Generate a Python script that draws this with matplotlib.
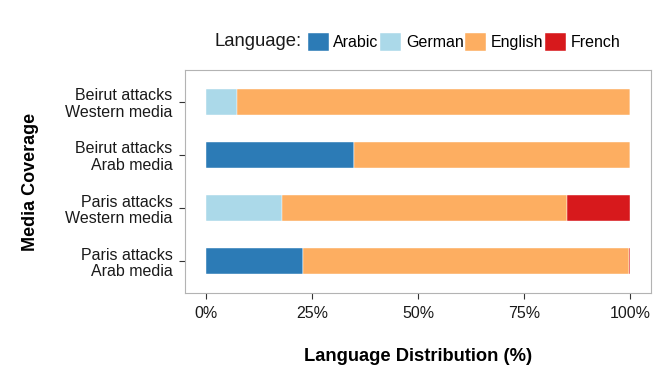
import matplotlib
matplotlib.use("Agg")
import matplotlib.pyplot as plt
from matplotlib.patches import Patch
import numpy as np

plt.rcParams['font.family'] = ['Liberation Sans', 'DejaVu Sans']

categories = ["Paris attacks\nArab media", "Paris attacks\nWestern media",
              "Beirut attacks\nArab media", "Beirut attacks\nWestern media"]
languages = ["Arabic", "German", "English", "French"]
colors = ["#2c7bb6", "#abd9e9", "#fdae61", "#d7191c"]
arabic = [22.9, 0.0, 34.8, 0.0]
german = [0.0, 17.8, 0.0, 7.2]
english = [76.8, 67.3, 65.2, 92.8]
french = [0.3, 14.9, 0.0, 0.0]
xticks = [0, 25, 50, 75, 100]
xticklabels = ["0%", "25%", "50%", "75%", "100%"]

fig = plt.figure(figsize=(6.64, 3.8), dpi=100)
ax = fig.add_axes([185/664, 1-293/380, (651-185)/664, (293-70)/380])

y = np.arange(1, len(categories)+1)
left = np.zeros(len(categories))
for lang, col, vals in zip(languages, colors, [arabic, german, english, french]):
    vals = np.array(vals)
    ax.barh(y, vals, left=left, height=0.5, color=col, edgecolor='white', linewidth=0.3)
    left += vals

ax.set_xlim(-5, 105)
ax.set_ylim(0.4, 4.6)
ax.set_yticks(y)
ax.set_yticklabels(categories, fontsize=11.5, color='#1a1a1a', ha='right', linespacing=1.1)
ax.set_xticks(xticks)
ax.set_xticklabels(xticklabels, fontsize=11.5, color='#1a1a1a')
ax.tick_params(axis='both', length=4, width=0.8, color='#333333', pad=5)
for s in ax.spines.values():
    s.set_color('#b3b3b3')
    s.set_linewidth(0.8)

ax.set_xlabel("Language Distribution (%)", fontsize=13.2, fontweight='bold', labelpad=20)
ax.set_ylabel("Media Coverage", fontsize=13, fontweight='bold', labelpad=19)

handles = [Patch(facecolor=c, edgecolor='white', linewidth=0.3) for c in colors]
fig.text(214/664, 1-42/380, "Language:", fontsize=13.3, va='center', ha='left', color='#1a1a1a')
fig.legend(handles, languages, loc='center', bbox_to_anchor=(464/664, 1-42/380),
           ncol=4, frameon=False, fontsize=11.5, handlelength=1.3, handleheight=1.3,
           handletextpad=0.3, columnspacing=0.1, borderpad=0)

fig.savefig("out.png", dpi=100)
